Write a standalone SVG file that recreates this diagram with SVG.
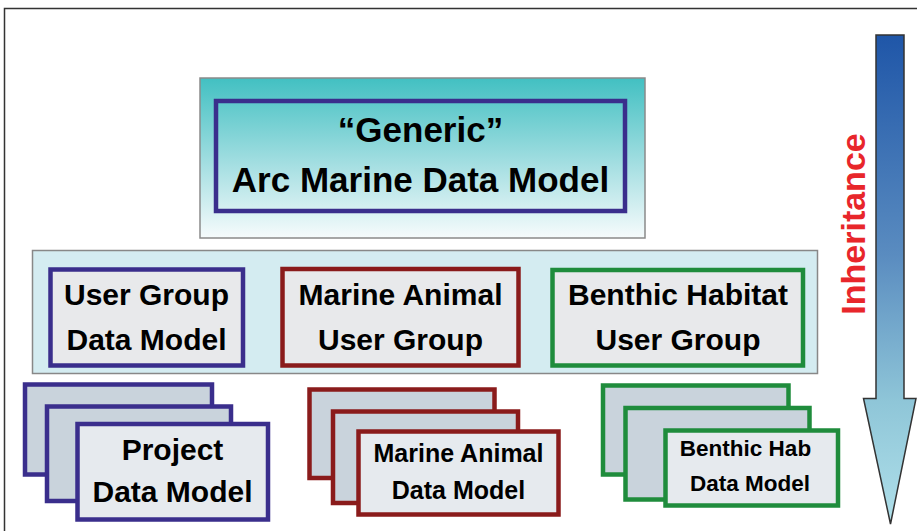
<svg xmlns="http://www.w3.org/2000/svg" width="917" height="531" viewBox="0 0 917 531">
<defs>
<linearGradient id="gTop" x1="0" y1="0" x2="0" y2="1">
<stop offset="0" stop-color="#42c0c2"/>
<stop offset="0.55" stop-color="#a6dfe2"/>
<stop offset="1" stop-color="#f6fbfc"/>
</linearGradient>
<linearGradient id="gArrow" x1="0" y1="35" x2="0" y2="525" gradientUnits="userSpaceOnUse">
<stop offset="0" stop-color="#1f56a8"/>
<stop offset="0.45" stop-color="#5a8cc0"/>
<stop offset="0.75" stop-color="#8fc6d8"/>
<stop offset="1" stop-color="#b0e0ea"/>
</linearGradient>
<style>
text{font-family:"Liberation Sans",Arial,sans-serif;font-weight:bold;fill:#000;text-anchor:middle}
.back{fill:#c9d3dc}
.front{fill:#e6eaee}
.mid{fill:#e8e9eb}
.blue{stroke:#3a2e8c;stroke-width:4.5}
.red{stroke:#8a1b1b;stroke-width:4.5}
.green{stroke:#1f8c3c;stroke-width:4.5}
</style>
</defs>
<rect x="0" y="0" width="917" height="531" fill="#fff"/>
<rect x="4.5" y="8.5" width="1000" height="1000" fill="none" stroke="#333" stroke-width="1.5"/>

<g id="generic">
<rect x="200" y="78" width="445" height="160" fill="url(#gTop)" stroke="#8a8a8a" stroke-width="1.5"/>
<rect x="216" y="101" width="409" height="110" fill="none" stroke="#3a2e8c" stroke-width="4.5"/>
<text x="420.5" y="142" font-size="35">“Generic”</text>
<text x="420.5" y="192" font-size="35">Arc Marine Data Model</text>
</g>

<g id="user-group-band">
<rect x="32.5" y="250.5" width="785" height="123" fill="#d4ecf1" stroke="#888" stroke-width="1.5"/>
</g>

<g id="user-group-data-model">
<rect x="50.5" y="269.5" width="192.5" height="96" class="mid blue"/>
<text x="146.5" y="305" font-size="30">User Group</text>
<text x="146.5" y="350" font-size="30">Data Model</text>
</g>

<g id="marine-animal-user-group">
<rect x="282.5" y="269" width="236" height="96.5" class="mid red"/>
<text x="400.5" y="305" font-size="30">Marine Animal</text>
<text x="400.5" y="350" font-size="30">User Group</text>
</g>

<g id="benthic-habitat-user-group">
<rect x="552.5" y="270" width="250.5" height="95.5" class="mid green"/>
<text x="678" y="305" font-size="30">Benthic Habitat</text>
<text x="678" y="350" font-size="30">User Group</text>
</g>

<g id="project-data-model">
<rect x="25" y="384.5" width="187" height="90" class="back blue"/>
<rect x="47" y="406.5" width="184" height="94.5" class="back blue"/>
<rect x="77.5" y="424" width="190.5" height="95.5" class="front blue"/>
<text x="172.5" y="460" font-size="30">Project</text>
<text x="172.5" y="502" font-size="30">Data Model</text>
</g>

<g id="marine-animal-data-model">
<rect x="309.5" y="389.5" width="185" height="88.5" class="back red"/>
<rect x="333" y="411.5" width="185" height="91.5" class="back red"/>
<rect x="358.5" y="431.5" width="200" height="83" class="front red"/>
<text x="458.5" y="462" font-size="25">Marine Animal</text>
<text x="458.5" y="498.5" font-size="25">Data Model</text>
</g>

<g id="benthic-hab-data-model">
<rect x="603" y="385.5" width="185.5" height="89" class="back green"/>
<rect x="625.5" y="408" width="184" height="91.5" class="back green"/>
<rect x="665.5" y="430.5" width="172.5" height="75" class="front green"/>
<text x="745.5" y="456" font-size="22.5">Benthic Hab</text>
<text x="750" y="491" font-size="22.5">Data Model</text>
</g>

<g id="connectors">
<g id="inheritance-arrow">
<path d="M876 35 H904 V398.5 H916 L890.5 524 L863.5 398.5 H876 Z" fill="url(#gArrow)" stroke="#333" stroke-width="1.5" stroke-linejoin="miter"/>
<text transform="translate(865 224) rotate(-90)" font-size="34" fill="#e8262b" style="fill:#e8262b">Inheritance</text>
</g>
</g>
</svg>
